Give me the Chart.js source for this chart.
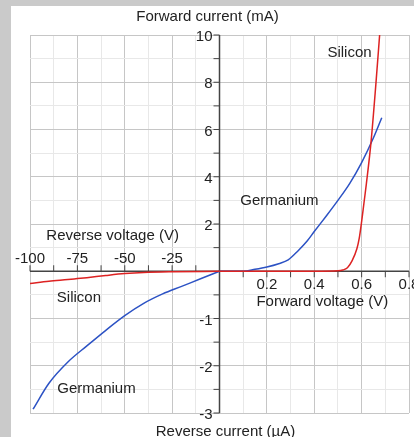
<!DOCTYPE html>
<html>
<head>
<meta charset="utf-8">
<script src="https://cdn.jsdelivr.net/npm/chart.js@4.4.1/dist/chart.umd.min.js"></script>
<style>
html, body { margin: 0; padding: 0; background: #cacaca; width: 414px; height: 437px; overflow: hidden; }
#wrap { position: absolute; left: 11px; top: 6px; width: 403px; height: 431px; background: #fff; }
</style>
</head>
<body>
<div id="wrap"><canvas id="chart" width="403" height="431"></canvas></div>
<script>
// 順方向特性 (V, mA)
const siFwdV = [0, 0.1, 0.2, 0.3, 0.4, 0.5, 0.52, 0.54, 0.56, 0.58, 0.59, 0.6, 0.61, 0.62, 0.64, 0.66, 0.676];
const siFwdI = [0, 0, 0, 0, 0, 0.02, 0.05, 0.15, 0.45, 0.95, 1.4, 2.1, 2.9, 3.7, 5.5, 7.9, 10];
const geFwdV = [0, 0.05, 0.1, 0.15, 0.2, 0.25, 0.29, 0.33, 0.37, 0.4, 0.45, 0.5, 0.55, 0.6, 0.65, 0.685];
const geFwdI = [0, 0, 0, 0.08, 0.18, 0.32, 0.48, 0.85, 1.28, 1.68, 2.33, 3.0, 3.72, 4.6, 5.65, 6.5];

// 逆方向特性 (V, µA)
const siRevV = [-100, -90, -80, -75, -70, -60, -50, -40, -25, 0];
const siRevI = [-0.26, -0.21, -0.175, -0.155, -0.135, -0.09, -0.05, -0.025, -0.01, 0];
const geRevV = [-98.4, -90, -80, -70, -60, -50, -40, -30, -20, -10, 0];
const geRevI = [-2.92, -2.37, -1.92, -1.58, -1.25, -0.94, -0.68, -0.48, -0.32, -0.16, 0];

// 目盛りラベル
const fwdVoltTicks = [0.2, 0.4, 0.6, 0.8];
const revVoltTicks = [-100, -75, -50, -25];
const fwdCurrTicks = [2, 4, 6, 8, 10];
const revCurrTicks = [-1, -2, -3];

const RED = '#dd2222';
const BLUE = '#2c52c4';
const FONT = '15px "Liberation Sans", Arial, sans-serif';

function toPoints(xs, ys) {
    return xs.map((v, i) => ({ x: v, y: ys[i] }));
}

// 軸・ラベル・注記の描画
const axesPlugin = {
    id: 'axesPlugin',
    beforeDatasetsDraw(chart) {
        const { ctx, chartArea } = chart;
        const x = chart.scales.x, y = chart.scales.y;
        const x0 = x.getPixelForValue(0);
        const y0 = y.getPixelForValue(0);
        ctx.save();
        ctx.strokeStyle = '#444';
        ctx.lineWidth = 1.5;
        ctx.beginPath();
        ctx.moveTo(x0, chartArea.top);
        ctx.lineTo(x0, chartArea.bottom);
        ctx.moveTo(chartArea.left, y0);
        ctx.lineTo(chartArea.right, y0);
        ctx.stroke();

        // 目盛り線
        ctx.lineWidth = 1;
        ctx.beginPath();
        x.ticks.forEach(t => {
            if (Math.abs(t.value) < 1e-9) return;
            const px = x.getPixelForValue(t.value);
            if (t.value > 0) { ctx.moveTo(px, y0); ctx.lineTo(px, y0 + 6); }
            else { ctx.moveTo(px, y0); ctx.lineTo(px, y0 - 6); }
        });
        y.ticks.forEach(t => {
            if (Math.abs(t.value) < 1e-9) return;
            const py = y.getPixelForValue(t.value);
            ctx.moveTo(x0 - 6, py);
            ctx.lineTo(x0, py);
        });
        ctx.stroke();
        ctx.restore();
    },
    afterDraw(chart) {
        const { ctx, chartArea } = chart;
        const x = chart.scales.x, y = chart.scales.y;
        const xr = chart.scales.xr, yr = chart.scales.yr;
        const x0 = x.getPixelForValue(0);
        const y0 = y.getPixelForValue(0);
        ctx.save();
        ctx.font = FONT;
        ctx.fillStyle = '#222';

        ctx.textAlign = 'center';
        ctx.textBaseline = 'middle';
        fwdVoltTicks.forEach(v => ctx.fillText(String(v), x.getPixelForValue(v), y0 + 14));
        revVoltTicks.forEach(v => ctx.fillText(String(v), xr.getPixelForValue(v), y0 - 12));

        ctx.textAlign = 'right';
        fwdCurrTicks.forEach(v => ctx.fillText(String(v), x0 - 7, y.getPixelForValue(v) + 2));
        revCurrTicks.forEach(v => ctx.fillText(String(v), x0 - 7, yr.getPixelForValue(v) + 2));

        // 軸タイトル
        ctx.textAlign = 'center';
        ctx.fillText('Forward current (mA)', x0 - 12, chartArea.top - 18);
        ctx.fillText('Reverse current (µA)', x0 + 6, chartArea.bottom + 19);
        ctx.fillText('Reverse voltage (V)', xr.getPixelForValue(-56.4), yr.getPixelForValue(0.74));
        ctx.fillText('Forward voltage (V)', x.getPixelForValue(0.434), y.getPixelForValue(-1.31));

        // 曲線の注記
        ctx.fillText('Silicon', x.getPixelForValue(0.549), y.getPixelForValue(9.24));
        ctx.fillText('Germanium', x.getPixelForValue(0.253), y.getPixelForValue(3.0));
        ctx.fillText('Silicon', xr.getPixelForValue(-74.2), yr.getPixelForValue(-0.56));
        ctx.fillText('Germanium', xr.getPixelForValue(-64.9), yr.getPixelForValue(-2.49));
        ctx.restore();
    }
};

function gridColor(step) {
    return (c) => {
        const n = Math.round(c.tick.value / step);
        return n % 2 === 0 ? '#c6c6c6' : '#e8e8e8';
    };
}

const lineStyle = {
    borderWidth: 1.5,
    pointRadius: 0,
    fill: false,
    cubicInterpolationMode: 'monotone'
};

new Chart(document.getElementById('chart'), {
    type: 'scatter',
    data: {
        datasets: [
            { label: 'Silicon', data: toPoints(siFwdV, siFwdI), xAxisID: 'x', yAxisID: 'y', borderColor: RED, showLine: true, ...lineStyle },
            { label: 'Silicon reverse', data: toPoints(siRevV, siRevI), xAxisID: 'xr', yAxisID: 'yr', borderColor: RED, showLine: true, ...lineStyle },
            { label: 'Germanium', data: toPoints(geFwdV, geFwdI), xAxisID: 'x', yAxisID: 'y', borderColor: BLUE, showLine: true, ...lineStyle },
            { label: 'Germanium reverse', data: toPoints(geRevV, geRevI), xAxisID: 'xr', yAxisID: 'yr', borderColor: BLUE, showLine: true, ...lineStyle }
        ]
    },
    options: {
        responsive: false,
        animation: false,
        layout: { padding: { left: 19, right: 5, top: 29, bottom: 24 } },
        plugins: { legend: { display: false }, tooltip: { enabled: false } },
        scales: {
            x: {
                type: 'linear', min: -0.8, max: 0.8,
                ticks: { display: false, stepSize: 0.1 },
                grid: { color: gridColor(0.1), drawTicks: false },
                border: { display: false }
            },
            y: {
                type: 'linear', min: -6, max: 10,
                ticks: { display: false, stepSize: 1 },
                grid: { color: gridColor(1), drawTicks: false },
                border: { display: false }
            },
            xr: { type: 'linear', axis: 'x', position: 'bottom', min: -100, max: 100, display: false },
            yr: { type: 'linear', axis: 'y', position: 'left', min: -3, max: 5, display: false }
        }
    },
    plugins: [axesPlugin]
});
</script>
</body>
</html>
